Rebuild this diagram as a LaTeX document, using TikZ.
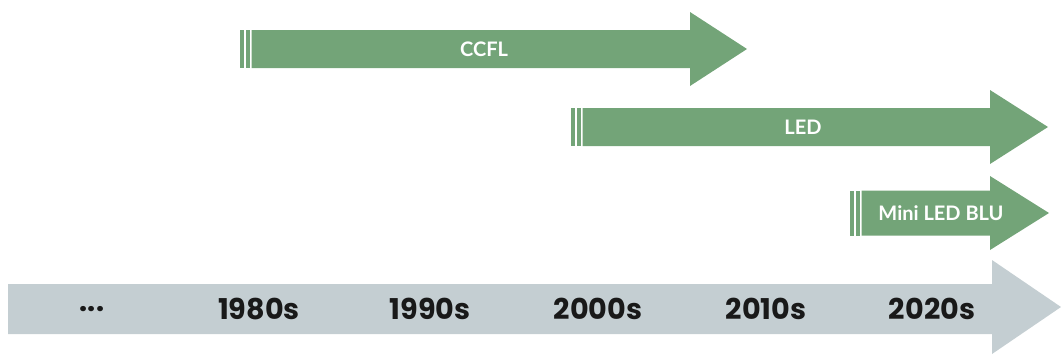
\documentclass[tikz,border=0pt]{standalone}
\usepackage{fontspec}
\setmainfont{Poppins}
\newfontfamily\techfont{Lato}
\usepackage{tikz}
\usetikzlibrary{positioning}
\usetikzlibrary{calc}
\definecolor{BarGreen}{RGB}{115,164,120}
\definecolor{AxisGray}{RGB}{196,206,210}
\tikzstyle{year} = [font=\bfseries\fontsize{21.5}{24}\selectfont, text=black!90]
\tikzstyle{tech} = [font=\techfont\bfseries\fontsize{15}{17}\selectfont, text=white]

\begin{document}
\begin{tikzpicture}[x=0.75pt,y=-0.75pt]
    \useasboundingbox (0,0) rectangle (1061,354);

    % time axis
    \fill[AxisGray] (8,284) -- (992,284) -- (992,260) -- (1061,307) -- (992,354) -- (992,334) -- (8,334) -- cycle;
    \foreach \x/\yr [count=\i] in {92/{...},259/1980s,430/1990s,598/2000s,766/2010s,932/2020s} {
        \node[year] (yr\i) at (\x,309) {\yr};
    }

    % technology arrows
    \foreach \s/\hx/\tx/\c/\h in {240/690/747/49/19, 571/990/1048/127/19, 850/990/1049/213/22.5} {
        \fill[BarGreen] (\s,\c-\h) rectangle (\s+3.5,\c+\h);
        \fill[BarGreen] (\s+5.5,\c-\h) rectangle (\s+9.5,\c+\h);
        \fill[BarGreen] (\s+11.5,\c-\h) -- (\hx,\c-\h) -- (\hx,\c-37) -- (\tx,\c) -- (\hx,\c+37) -- (\hx,\c+\h) -- (\s+11.5,\c+\h) -- cycle;
    }
    \node[tech] (ccfl) at (484,49) {CCFL};
    \node[tech] (led) at (803,127) {LED};
    \node[tech] (miniled) at (941,213) {Mini LED BLU};
\end{tikzpicture}
\end{document}
